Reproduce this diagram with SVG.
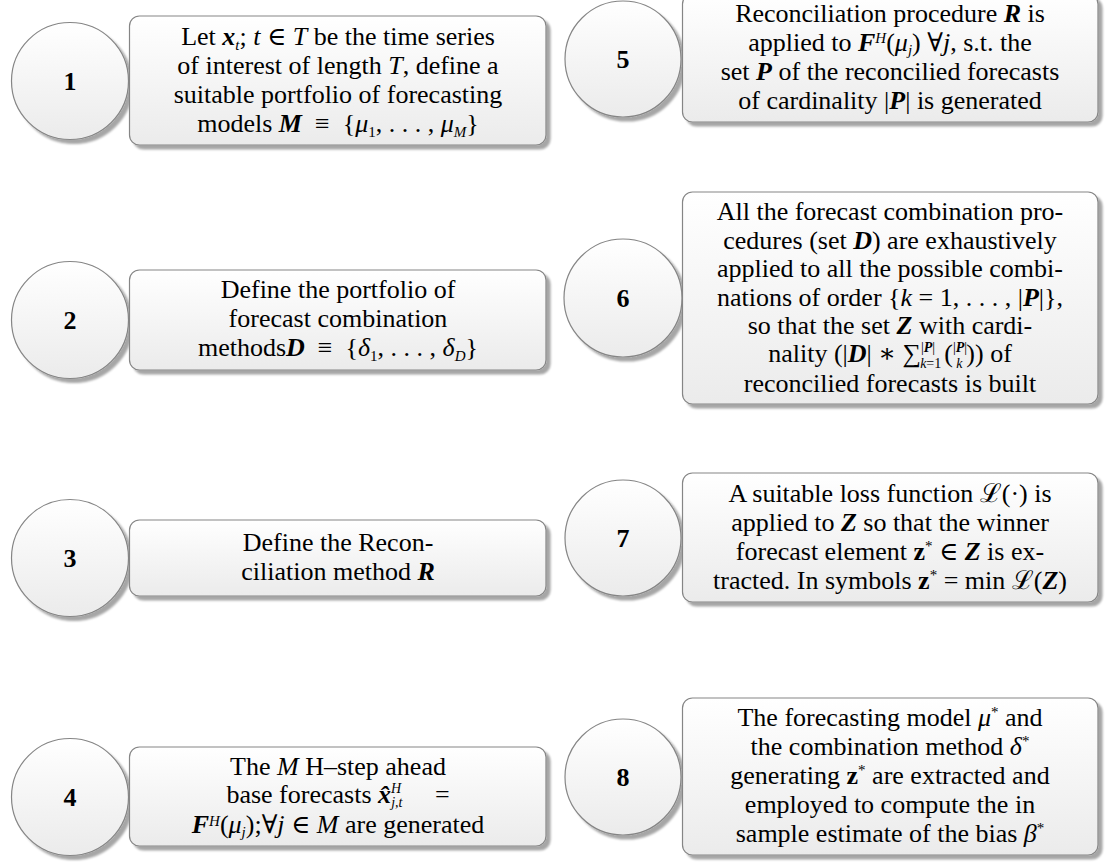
<svg xmlns="http://www.w3.org/2000/svg" width="1112" height="863" viewBox="0 0 1112 863">
<style>
.t{font-family:"Liberation Serif","DejaVu Serif",serif;font-size:26px;font-weight:normal;fill:#000;text-anchor:middle}
.i{font-style:italic}
.bi{font-style:italic;font-weight:bold}
.b{font-weight:bold}
.s{font-size:15px}
.ss{font-size:14px}
.num{font-family:"Liberation Serif","DejaVu Serif",serif;font-size:26px;font-weight:bold;text-anchor:middle;fill:#000}
.circ{fill:url(#g);stroke:#858585;stroke-width:1.2;filter:url(#sh)}
.box{fill:url(#g);stroke:#858585;stroke-width:1.2;filter:url(#sh)}
</style>
<defs>
<linearGradient id="g" x1="0" y1="0" x2="0" y2="1">
<stop offset="0" stop-color="#ffffff"/>
<stop offset="1" stop-color="#ebebeb"/>
</linearGradient>
<filter id="sh" x="-10%" y="-10%" width="130%" height="130%">
<feDropShadow dx="4" dy="4" stdDeviation="1" flood-color="#000" flood-opacity="0.35"/>
</filter>
</defs>
<rect width="1112" height="863" fill="#fff"/>

<g id="node1">
<circle class="circ" cx="70" cy="81" r="58.5"/>
<text class="num" x="70" y="90">1</text>
<rect class="box" x="129.5" y="16" width="416.5" height="129" rx="10"/>
<text class="t" x="338" y="44.5">Let <tspan class="bi">x</tspan><tspan class="s i" dy="5">t</tspan><tspan dy="-5">;&#160;</tspan><tspan class="i">t</tspan>&#160;∈&#160;<tspan class="i">T</tspan> be the time series</text>
<text class="t" x="338" y="73.5">of interest of length <tspan class="i">T</tspan>, define a</text>
<text class="t" x="338" y="102.5">suitable portfolio of forecasting</text>
<text class="t" x="338" y="131.5">models <tspan class="bi">M</tspan>&#160;&#160;≡&#160;&#160;{<tspan class="i">μ</tspan><tspan class="s" dy="5">1</tspan><tspan dy="-5">, . . . , </tspan><tspan class="i">μ</tspan><tspan class="s i" dy="5">M</tspan><tspan dy="-5">}</tspan></text>
</g>

<g id="node2">
<circle class="circ" cx="70" cy="320" r="58.5"/>
<text class="num" x="70" y="329">2</text>
<rect class="box" x="129.5" y="270" width="416.5" height="100" rx="10"/>
<text class="t" x="338" y="298">Define the portfolio of</text>
<text class="t" x="338" y="327">forecast combination</text>
<text class="t" x="338" y="356">methods<tspan class="bi">D</tspan>&#160;&#160;≡&#160;&#160;{<tspan class="i">δ</tspan><tspan class="s" dy="5">1</tspan><tspan dy="-5">, . . . , </tspan><tspan class="i">δ</tspan><tspan class="s i" dy="5">D</tspan><tspan dy="-5">}</tspan></text>
</g>

<g id="node3">
<circle class="circ" cx="70" cy="558" r="58.5"/>
<text class="num" x="70" y="567">3</text>
<rect class="box" x="129.5" y="520" width="416.5" height="76" rx="10"/>
<text class="t" x="338" y="551">Define the Recon-</text>
<text class="t" x="338" y="580">ciliation method <tspan class="bi">R</tspan></text>
</g>

<g id="node4">
<circle class="circ" cx="70" cy="797" r="58.5"/>
<text class="num" x="70" y="806">4</text>
<rect class="box" x="129.5" y="747" width="416.5" height="99" rx="10"/>
<text class="t" x="338" y="775">The <tspan class="i">M</tspan> H–step ahead</text>
<text class="t" x="338" y="803">base forecasts <tspan class="bi">x̂</tspan><tspan class="ss i" dy="-10">H</tspan><tspan class="ss i" dx="-10" dy="14">j,t</tspan><tspan dy="-4">&#160;&#160;&#160;&#160;&#160;=</tspan></text>
<text class="t" x="338" y="833"><tspan class="bi">F</tspan><tspan class="s i" dy="-7">H</tspan><tspan dy="7">(</tspan><tspan class="i">μ</tspan><tspan class="s i" dy="4">j</tspan><tspan dy="-4">);∀</tspan><tspan class="i">j</tspan>&#160;∈&#160;<tspan class="i">M</tspan> are generated</text>
</g>

<g id="node5">
<circle class="circ" cx="623" cy="59" r="58"/>
<text class="num" x="623" y="68">5</text>
<rect class="box" x="682.5" y="-6" width="415.5" height="128" rx="10"/>
<text class="t" x="890" y="22">Reconciliation procedure <tspan class="bi">R</tspan> is</text>
<text class="t" x="890" y="51">applied to <tspan class="bi">F</tspan><tspan class="s i" dy="-8">H</tspan><tspan dy="8">(</tspan><tspan class="i">μ</tspan><tspan class="s i" dy="4">j</tspan><tspan dy="-4">) ∀</tspan><tspan class="i">j</tspan>, s.t. the</text>
<text class="t" x="890" y="80">set <tspan class="bi">P</tspan> of the reconcilied forecasts</text>
<text class="t" x="890" y="109">of cardinality |<tspan class="bi">P</tspan>| is generated</text>
</g>

<g id="node6">
<circle class="circ" cx="623" cy="298" r="59"/>
<text class="num" x="623" y="307">6</text>
<rect class="box" x="682.5" y="192" width="415.5" height="212" rx="10"/>
<text class="t" x="890" y="220">All the forecast combination pro-</text>
<text class="t" x="890" y="248.5">cedures (set <tspan class="bi">D</tspan>) are exhaustively</text>
<text class="t" x="890" y="277">applied to all the possible combi-</text>
<text class="t" x="890" y="305.5">nations of order {<tspan class="i">k</tspan> = 1, . . . , |<tspan class="bi">P</tspan>|},</text>
<text class="t" x="890" y="334">so that the set <tspan class="bi">Z</tspan> with cardi-</text>
<text class="t" x="890" y="361.5">nality (|<tspan class="bi">D</tspan>| ∗ ∑<tspan class="ss" dy="-10">|<tspan class="bi">P</tspan>|</tspan><tspan class="ss" dx="-15" dy="16"><tspan class="i">k</tspan>=1</tspan><tspan dy="-6" dx="3">(</tspan><tspan class="ss" dy="-10">|<tspan class="bi">P</tspan>|</tspan><tspan class="ss i" dx="-11" dy="16">k</tspan><tspan dx="4" dy="-6">)) of</tspan></text>
<text class="t" x="890" y="392">reconcilied forecasts is built</text>
</g>

<g id="node7">
<circle class="circ" cx="623" cy="538" r="58"/>
<text class="num" x="623" y="547">7</text>
<rect class="box" x="682.5" y="473" width="415.5" height="129" rx="10"/>
<text class="t" x="890" y="501.5">A suitable loss function ℒ(·) is</text>
<text class="t" x="890" y="530.5">applied to <tspan class="bi">Z</tspan> so that the winner</text>
<text class="t" x="890" y="559.5">forecast element <tspan class="b">z</tspan><tspan class="s" dy="-9">*</tspan><tspan dy="9"> ∈ </tspan><tspan class="bi">Z</tspan> is ex-</text>
<text class="t" x="890" y="588.5">tracted. In symbols <tspan class="b">z</tspan><tspan class="s" dy="-9">*</tspan><tspan dy="9"> = min ℒ(</tspan><tspan class="bi">Z</tspan>)</text>
</g>

<g id="node8">
<circle class="circ" cx="623" cy="777" r="58"/>
<text class="num" x="623" y="786">8</text>
<rect class="box" x="682.5" y="698" width="415.5" height="157" rx="10"/>
<text class="t" x="890" y="726">The forecasting model <tspan class="i">μ</tspan><tspan class="s" dy="-9">*</tspan><tspan dy="9"> and</tspan></text>
<text class="t" x="890" y="755">the combination method <tspan class="i">δ</tspan><tspan class="s" dy="-9">*</tspan></text>
<text class="t" x="890" y="784">generating <tspan class="b">z</tspan><tspan class="s" dy="-9">*</tspan><tspan dy="9"> are extracted and</tspan></text>
<text class="t" x="890" y="813">employed to compute the in</text>
<text class="t" x="890" y="842">sample estimate of the bias <tspan class="i">β</tspan><tspan class="s" dy="-9">*</tspan></text>
</g>

<g id="connectors"></g>
</svg>
